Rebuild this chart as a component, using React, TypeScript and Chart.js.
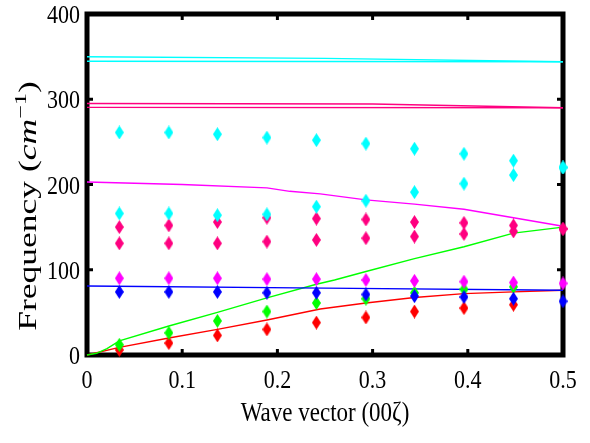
import React, { useEffect, useRef } from 'react';
import { Chart, registerables } from 'chart.js';
Chart.register(...registerables);

// ---- data ----
const markerX = [0.034, 0.086, 0.137, 0.189, 0.241, 0.293, 0.344, 0.396, 0.448, 0.5];
const cyanUpperPts = [261, 261, 259, 255, 252, 248, 242, 236, 228, 220];
const cyanLowerPts = [166, 166, 164, 165, 174, 181, 191, 201, 211, 220];
const pinkUpperPts = [150, 152, 156, 161, 160, 159, 156, 155, 152, 148];
const pinkLowerPts = [131, 131, 131, 133, 135, 137, 139, 142, 145, 148];
const magentaPts = [90, 90, 90, 89, 89, 88, 87, 86, 85, 84];
const bluePts = [74, 74, 74, 73, 73, 71, 69, 68, 66, 63];
const greenPts = [12, 26, 40, 51, 61, 66, 73, 77, 80, null];
const redPts = [6, 14, 23, 30, 38, 44, 51, 55, 59, null];

const cyanLineAX = [0, 0.25, 0.5];
const cyanLineAY = [349.8, 348, 344];
const cyanLineBX = [0, 0.5];
const cyanLineBY = [344.5, 344];
const pinkLineAX = [0, 0.3, 0.5];
const pinkLineAY = [295, 294.5, 290];
const pinkLineBX = [0, 0.5];
const pinkLineBY = [290.5, 290];
const magentaLineX = [0, 0.1, 0.189, 0.213, 0.245, 0.293, 0.344, 0.396, 0.448, 0.5];
const magentaLineY = [203, 200, 196, 192, 189, 182, 177, 171, 161, 151];
const blueLineX = [0, 0.25, 0.5];
const blueLineY = [81, 78.5, 76];
const greenLineX = [0, 0.01, 0.021, 0.034, 0.086, 0.137, 0.189, 0.241, 0.26, 0.293, 0.344, 0.396, 0.448, 0.5];
const greenLineY = [0, 2, 7.5, 16.5, 34, 50, 67, 83, 88, 98, 113, 127, 143, 150];
const redLineX = [0, 0.034, 0.086, 0.137, 0.189, 0.245, 0.293, 0.344, 0.396, 0.448, 0.5];
const redLineY = [0, 9, 20, 30, 41, 54, 61, 67.5, 72, 74, 76];

const xMin = 0, xMax = 0.5, xStep = 0.1;
const yMin = 0, yMax = 400, yStep = 100;
const xTitle = 'Wave vector (00ζ)';
const yTitleMain = 'Frequency ';
const yTitleUnit = 'cm';
const yTitleExp = '−1';

const CYAN = '#00ffff';
const PINK = '#ff0080';
const MAGENTA = '#ff00ff';
const BLUE = '#0000ff';
const GREEN = '#00ff00';
const RED = '#ff0000';
const FONT = '"Liberation Serif", "Times New Roman", serif';

function diamond(color: string) {
  const c = document.createElement('canvas');
  c.width = 9;
  c.height = 14;
  const g = c.getContext('2d')!;
  g.fillStyle = color;
  g.beginPath();
  g.moveTo(4.5, 0);
  g.lineTo(9, 7);
  g.lineTo(4.5, 14);
  g.lineTo(0, 7);
  g.closePath();
  g.fill();
  return c;
}

function pts(xs: number[], ys: (number | null)[]) {
  const out: { x: number; y: number }[] = [];
  xs.forEach((x, i) => {
    const y = ys[i];
    if (y !== null && y !== undefined) out.push({ x, y });
  });
  return out;
}

function drawStretched(ctx: CanvasRenderingContext2D, text: string, x: number, y: number, font: string, align: CanvasTextAlign, sy: number) {
  ctx.save();
  ctx.translate(x, y);
  ctx.scale(1, sy);
  ctx.font = font;
  ctx.textAlign = align;
  ctx.textBaseline = 'alphabetic';
  ctx.fillText(text, 0, 0);
  ctx.restore();
}

const framePlugin = {
  id: 'frame',
  beforeDatasetsDraw(chart: any) {
    const { ctx, chartArea: a, scales } = chart;
    ctx.save();
    ctx.strokeStyle = '#000';
    ctx.lineJoin = 'miter';
    ctx.lineWidth = 5;
    ctx.strokeRect(a.left, a.top, a.right - a.left, a.bottom - a.top);
    ctx.lineWidth = 3;
    ctx.beginPath();
    scales.x.ticks.forEach((t: any) => {
      if (t.value <= xMin + 1e-9 || t.value >= xMax - 1e-9) return;
      const px = scales.x.getPixelForValue(t.value);
      ctx.moveTo(px, a.bottom);
      ctx.lineTo(px, a.bottom - 6);
      ctx.moveTo(px, a.top);
      ctx.lineTo(px, a.top + 6);
    });
    scales.y.ticks.forEach((t: any) => {
      if (t.value <= yMin || t.value >= yMax) return;
      const py = scales.y.getPixelForValue(t.value);
      ctx.moveTo(a.left, py);
      ctx.lineTo(a.left + 6, py);
      ctx.moveTo(a.right, py);
      ctx.lineTo(a.right - 6, py);
    });
    ctx.stroke();
    ctx.restore();
  },
  afterDraw(chart: any) {
    const { ctx, chartArea: a, scales } = chart;
    ctx.save();
    ctx.fillStyle = '#000';
    scales.y.ticks.forEach((t: any) => {
      const py = scales.y.getPixelForValue(t.value);
      drawStretched(ctx, t.label, a.left - 7, py + 9, `22px ${FONT}`, 'right', 1.12);
    });
    scales.x.ticks.forEach((t: any) => {
      const px = scales.x.getPixelForValue(t.value);
      drawStretched(ctx, t.label, px, a.bottom + 33, `22px ${FONT}`, 'center', 1.12);
    });
    // x title
    drawStretched(ctx, xTitle, (a.left + a.right) / 2, a.bottom + 66, `23px ${FONT}`, 'center', 1.18);
    // y title (mixed styles), rotated
    const fMain = `25px ${FONT}`;
    const fItal = `italic 25px ${FONT}`;
    const fSup = `17px ${FONT}`;
    const parts: [string, string, number][] = [
      [yTitleMain, fMain, 0],
      ['(', fMain, 0],
      [yTitleUnit, fItal, 0],
      [yTitleExp, fSup, -10],
      [')', fMain, 0],
    ];
    let total = 0;
    const widths = parts.map(([s, f]) => {
      ctx.font = f;
      const w = ctx.measureText(s).width;
      total += w;
      return w;
    });
    const sLen = 1.42;
    ctx.translate(36, 206);
    ctx.rotate(-Math.PI / 2);
    ctx.scale(sLen, 1);
    ctx.textBaseline = 'alphabetic';
    ctx.textAlign = 'left';
    let cx = -total / 2;
    parts.forEach(([s, f, dy], i) => {
      ctx.font = f;
      ctx.fillText(s, cx, dy);
      cx += widths[i];
    });
    ctx.restore();
  },
};

export default function App() {
  const ref = useRef<HTMLCanvasElement>(null);
  useEffect(() => {
    document.body.style.margin = '0';
    const marker = (label: string, color: string, ys: (number | null)[], order: number) => ({
      label,
      data: pts(markerX, ys),
      showLine: false,
      pointStyle: diamond(color),
      pointRadius: 6,
      pointHoverRadius: 6,
      backgroundColor: color,
      borderColor: color,
      clip: false,
      order,
    });
    const line = (label: string, color: string, xs: number[], ys: number[]) => ({
      label,
      data: pts(xs, ys),
      showLine: true,
      pointRadius: 0,
      borderColor: color,
      borderWidth: 1.4,
      tension: 0,
      clip: false,
      order: 20,
    });
    const chart = new Chart(ref.current!, {
      type: 'scatter',
      data: {
        datasets: [
          line('cyan line A', CYAN, cyanLineAX, cyanLineAY),
          line('cyan line B', CYAN, cyanLineBX, cyanLineBY),
          line('pink line A', PINK, pinkLineAX, pinkLineAY),
          line('pink line B', PINK, pinkLineBX, pinkLineBY),
          line('magenta line', MAGENTA, magentaLineX, magentaLineY),
          line('blue line', BLUE, blueLineX, blueLineY),
          line('green line', GREEN, greenLineX, greenLineY),
          line('red line', RED, redLineX, redLineY),
          marker('cyan upper', CYAN, cyanUpperPts, 1),
          marker('cyan lower', CYAN, cyanLowerPts, 2),
          marker('pink upper', PINK, pinkUpperPts, 3),
          marker('pink lower', PINK, pinkLowerPts, 4),
          marker('magenta', MAGENTA, magentaPts, 5),
          marker('blue', BLUE, bluePts, 6),
          marker('green', GREEN, greenPts, 7),
          marker('red', RED, redPts, 8),
        ] as any,
      },
      options: {
        animation: false,
        responsive: true,
        maintainAspectRatio: false,
        layout: { padding: { left: 0, right: 27, top: 14, bottom: 0 } },
        plugins: { legend: { display: false }, tooltip: { enabled: false } },
        events: [],
        scales: {
          x: {
            type: 'linear',
            min: xMin,
            max: xMax,
            grid: { display: false, drawTicks: false },
            border: { display: false },
            ticks: {
              display: false,
              stepSize: xStep,
              callback: (v: any) => (Number(v) === 0 ? '0' : Number(v).toFixed(1)),
            },
            afterFit: (s: any) => { s.height = 88; },
          },
          y: {
            type: 'linear',
            min: yMin,
            max: yMax,
            grid: { display: false, drawTicks: false },
            border: { display: false },
            ticks: {
              display: false,
              stepSize: yStep,
              callback: (v: any) => String(Math.round(Number(v))),
            },
            afterFit: (s: any) => { s.width = 87; },
          },
        },
      },
      plugins: [framePlugin],
    } as any);
    return () => chart.destroy();
  }, []);
  return (
    <div style={{ position: 'fixed', left: 0, top: 0, width: 590, height: 443, background: '#fff' }}>
      <canvas ref={ref} />
    </div>
  );
}
